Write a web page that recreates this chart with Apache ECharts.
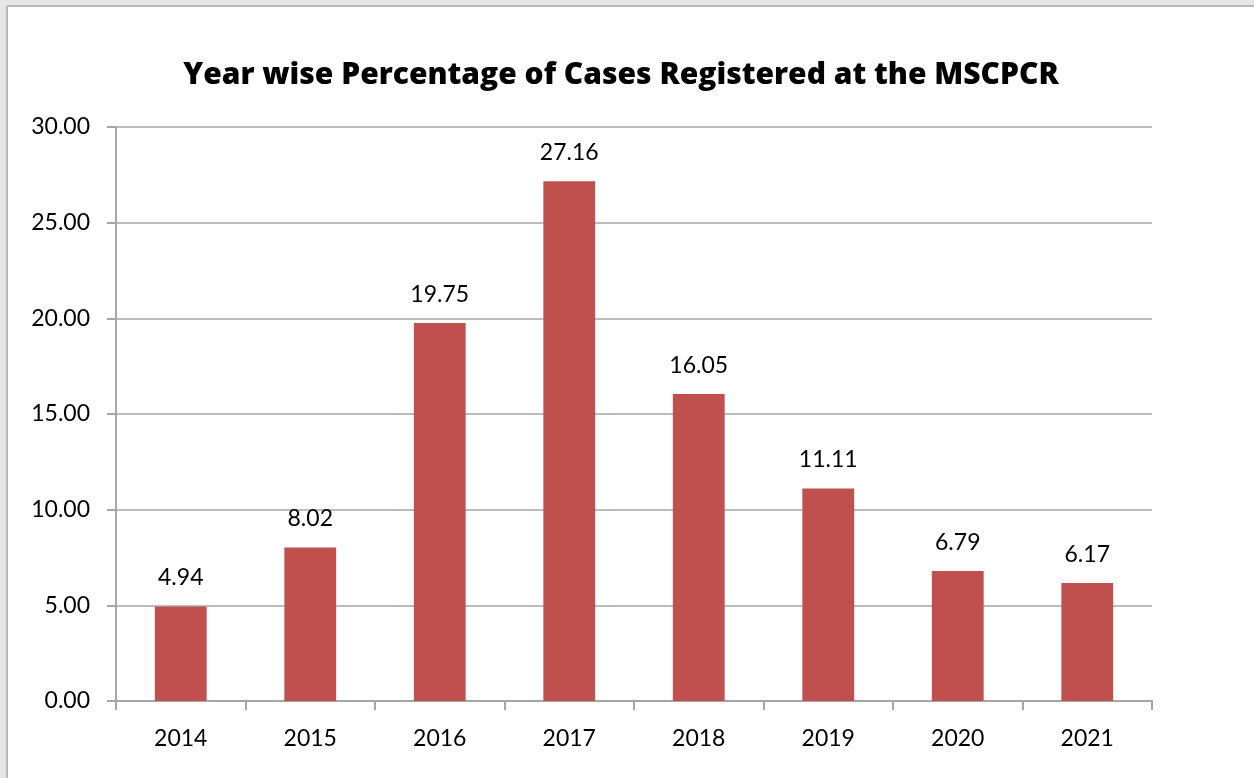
<!DOCTYPE html>
<html>
<head>
<meta charset="utf-8">
<script src="https://cdn.jsdelivr.net/npm/echarts@6/dist/echarts.min.js"></script>
<style>
    html, body { margin: 0; padding: 0; background: #fff; }
    #main { width: 1254px; height: 778px; }
</style>
</head>
<body>
<div id="main"></div>
<script>
    var years = ['2014', '2015', '2016', '2017', '2018', '2019', '2020', '2021'];
    var percentages = [4.94, 8.02, 19.75, 27.16, 16.05, 11.11, 6.79, 6.17];

    var myChart = echarts.init(document.getElementById('main'));
    var font = 'Lato, "Open Sans", sans-serif';

    myChart.setOption({
        backgroundColor: '#ffffff',
        animation: false,
        // grey frame of the original window at top and left
        graphic: [
            { type: 'rect', shape: { x: 0, y: 0, width: 1254, height: 6 }, style: { fill: '#e6e6e6' } },
            { type: 'rect', shape: { x: 0, y: 0, width: 7, height: 778 }, style: { fill: '#e6e6e6' } },
            { type: 'line', shape: { x1: 7, y1: 6, x2: 1254, y2: 6 }, style: { stroke: '#b9b9b9', lineWidth: 2 } },
            { type: 'line', shape: { x1: 7, y1: 6, x2: 7, y2: 778 }, style: { stroke: '#b9b9b9', lineWidth: 2 } }
        ],
        title: {
            text: 'Year wise Percentage of Cases Registered at the MSCPCR',
            left: 616,
            textAlign: 'center',
            top: 55,
            textStyle: { fontFamily: '"Open Sans", sans-serif', fontWeight: 800, fontSize: 30, color: '#000' }
        },
        grid: { left: 116, right: 102, top: 127, bottom: 77 },
        xAxis: {
            type: 'category',
            data: years,
            axisLine: { lineStyle: { color: '#a6a6a6', width: 2 } },
            axisTick: { show: true, length: 9, lineStyle: { color: '#a6a6a6', width: 2 } },
            axisLabel: { margin: 26, color: '#000', fontFamily: font, fontSize: 23 }
        },
        yAxis: {
            type: 'value',
            min: 0,
            max: 30,
            interval: 5,
            axisLine: { show: true, lineStyle: { color: '#a6a6a6', width: 2 } },
            axisTick: { show: true, length: 9, lineStyle: { color: '#a6a6a6', width: 2 } },
            splitLine: { lineStyle: { color: '#a6a6a6', width: 1.5 } },
            axisLabel: {
                margin: 26, color: '#000', fontFamily: font, fontSize: 23,
                formatter: function (v) { return v.toFixed(2); }
            }
        },
        series: [{
            type: 'bar',
            data: percentages,
            barWidth: '40%',
            itemStyle: { color: '#c0504d' },
            label: {
                show: true,
                position: 'top',
                distance: 17,
                color: '#000',
                fontFamily: font,
                fontSize: 23,
                formatter: function (p) { return p.value.toFixed(2); }
            }
        }]
    });
</script>
</body>
</html>
